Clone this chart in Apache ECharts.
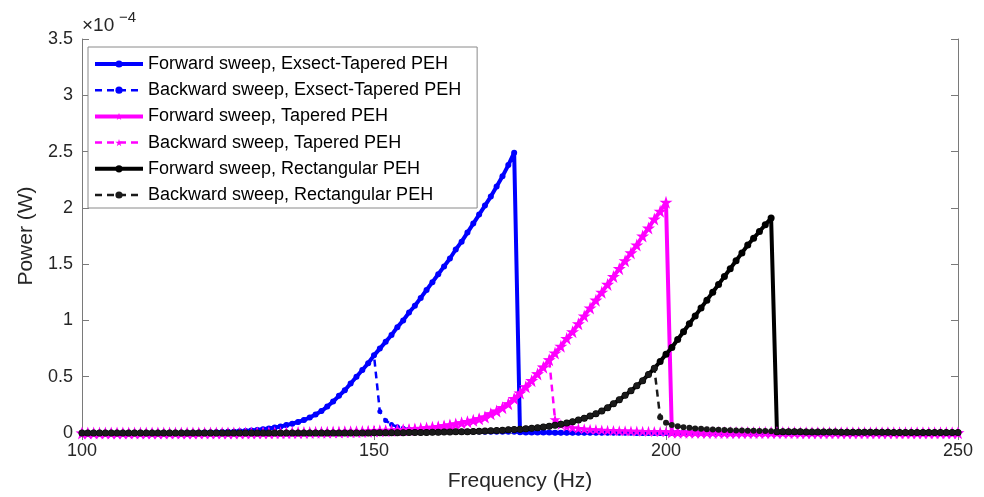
<!DOCTYPE html>
<html>
<head>
<meta charset="utf-8">
<script src="https://cdn.jsdelivr.net/npm/echarts@6/dist/echarts.min.js"></script>
<style>html,body{margin:0;padding:0;background:#fff;}#c{width:984px;height:497px;}</style>
</head>
<body>
<div id="c"></div>
<script>
// Frequency samples (Hz)
const FREQ = [
100,101,102,103,104,105,106,107,108,109,
110,111,112,113,114,115,116,117,118,119,
120,121,122,123,124,125,126,127,128,129,
130,131,132,133,134,135,136,137,138,139,
140,141,142,143,144,145,146,147,148,149,
150,151,152,153,154,155,156,157,158,159,
160,161,162,163,164,165,166,167,168,169,
170,171,172,173,174,175,176,177,178,179,
180,181,182,183,184,185,186,187,188,189,
190,191,192,193,194,195,196,197,198,199,
200,201,202,203,204,205,206,207,208,209,
210,211,212,213,214,215,216,217,218,219,
220,221,222,223,224,225,226,227,228,229,
230,231,232,233,234,235,236,237,238,239,
240,241,242,243,244,245,246,247,248,249,
250];

// Power values in units of 1e-4 W
const EXSECT_FWD = [
0,0,0,0,0,0,0,0,0,0,
0,0,0,0,0,0,0.001,0.001,0.002,0.002,
0.003,0.004,0.005,0.006,0.008,0.010,0.012,0.015,0.018,0.022,
0.027,0.033,0.040,0.048,0.058,0.070,0.083,0.098,0.115,0.138,
0.165,0.195,0.235,0.28,0.33,0.38,0.44,0.50,0.56,0.62,
0.69,0.75,0.81,0.87,0.94,1.00,1.07,1.13,1.20,1.27,
1.34,1.41,1.48,1.55,1.63,1.70,1.78,1.86,1.94,2.02,
2.10,2.19,2.28,2.38,2.49,0.006,0.005,0.005,0.004,0.004,
0.004,0.003,0.003,0.003,0.003,0.002,0.002,0.002,0.002,0.002,
0.002,0.002,0.002,0.002,0.002,0.001,0.001,0.001,0.001,0.001,
0.001,0.001,0.001,0.001,0.001,0.001,0.001,0.001,0.001,0.001,
0.001,0.001,0.001,0.001,0.001,0.001,0.001,0.001,0.001,0.001,
0.001,0.001,0.001,0.001,0.001,0,0,0,0,0,
0,0,0,0,0,0,0,0,0,0,
0,0,0,0,0,0,0,0,0,0,
0];

const EXSECT_BWD = [
0,0,0,0,0,0,0,0,0,0,
0,0,0,0,0,0,0.001,0.001,0.002,0.002,
0.003,0.004,0.005,0.006,0.008,0.010,0.012,0.015,0.018,0.022,
0.027,0.033,0.040,0.048,0.058,0.070,0.083,0.098,0.115,0.138,
0.165,0.195,0.235,0.28,0.33,0.38,0.44,0.50,0.56,0.62,
0.69,0.19,0.11,0.075,0.055,0.042,0.034,0.028,0.023,0.020,
0.017,0.015,0.013,0.012,0.011,0.010,0.009,0.008,0.008,0.007,
0.007,0.006,0.006,0.006,0.006,0.006,0.005,0.005,0.004,0.004,
0.004,0.003,0.003,0.003,0.003,0.002,0.002,0.002,0.002,0.002,
0.002,0.002,0.002,0.002,0.002,0.001,0.001,0.001,0.001,0.001,
0.001,0.001,0.001,0.001,0.001,0.001,0.001,0.001,0.001,0.001,
0.001,0.001,0.001,0.001,0.001,0.001,0.001,0.001,0.001,0.001,
0.001,0.001,0.001,0.001,0.001,0,0,0,0,0,
0,0,0,0,0,0,0,0,0,0,
0,0,0,0,0,0,0,0,0,0,
0];

const TAPERED_FWD = [
0,0,0,0,0,0,0,0,0,0,
0,0,0,0,0,0,0,0,0,0,
0.001,0.001,0.001,0.001,0.001,0.001,0.001,0.001,0.001,0.001,
0.002,0.002,0.002,0.003,0.003,0.003,0.004,0.004,0.005,0.005,
0.006,0.006,0.007,0.008,0.009,0.010,0.011,0.012,0.013,0.015,
0.017,0.019,0.021,0.023,0.026,0.029,0.032,0.036,0.040,0.045,
0.050,0.056,0.063,0.071,0.080,0.090,0.101,0.113,0.127,0.142,
0.17,0.195,0.225,0.26,0.305,0.355,0.41,0.465,0.525,0.585,
0.65,0.71,0.77,0.84,0.90,0.97,1.04,1.11,1.18,1.25,
1.32,1.39,1.46,1.53,1.60,1.67,1.75,1.82,1.90,1.97,
2.05,0.008,0.007,0.007,0.006,0.006,0.006,0.005,0.005,0.005,
0.004,0.004,0.004,0.004,0.004,0.004,0.004,0.004,0.004,0.004,
0.004,0.004,0.004,0.003,0.003,0.003,0.003,0.003,0.003,0.003,
0.003,0.003,0.003,0.003,0.003,0.003,0.003,0.003,0.003,0.003,
0.002,0.002,0.002,0.002,0.002,0.002,0.002,0.002,0.002,0.002,
0.002];

const TAPERED_BWD = [
0,0,0,0,0,0,0,0,0,0,
0,0,0,0,0,0,0,0,0,0,
0.001,0.001,0.001,0.001,0.001,0.001,0.001,0.001,0.001,0.001,
0.002,0.002,0.002,0.003,0.003,0.003,0.004,0.004,0.005,0.005,
0.006,0.006,0.007,0.008,0.009,0.010,0.011,0.012,0.013,0.015,
0.017,0.019,0.021,0.023,0.026,0.029,0.032,0.036,0.040,0.045,
0.050,0.056,0.063,0.071,0.080,0.090,0.101,0.113,0.127,0.142,
0.17,0.195,0.225,0.26,0.305,0.355,0.41,0.465,0.525,0.585,
0.65,0.12,0.075,0.058,0.048,0.042,0.037,0.033,0.030,0.027,
0.025,0.023,0.021,0.020,0.018,0.017,0.016,0.015,0.014,0.013,
0.012,0.008,0.007,0.007,0.006,0.006,0.006,0.005,0.005,0.005,
0.004,0.004,0.004,0.004,0.004,0.004,0.004,0.004,0.004,0.004,
0.004,0.004,0.004,0.003,0.003,0.003,0.003,0.003,0.003,0.003,
0.003,0.003,0.003,0.003,0.003,0.003,0.003,0.003,0.003,0.003,
0.002,0.002,0.002,0.002,0.002,0.002,0.002,0.002,0.002,0.002,
0.002];

const RECT_FWD = [
0,0,0,0,0,0,0,0,0,0,
0,0,0,0,0,0,0,0,0,0,
0,0,0,0,0,0,0,0,0,0,
0.001,0.001,0.001,0.001,0.001,0.001,0.001,0.001,0.001,0.001,
0.001,0.001,0.001,0.001,0.001,0.001,0.001,0.001,0.001,0.001,
0.002,0.002,0.002,0.003,0.003,0.003,0.004,0.004,0.005,0.005,
0.006,0.007,0.008,0.009,0.010,0.011,0.012,0.014,0.016,0.018,
0.020,0.022,0.025,0.028,0.031,0.034,0.038,0.042,0.047,0.053,
0.060,0.068,0.077,0.088,0.100,0.115,0.130,0.150,0.170,0.195,
0.225,0.26,0.295,0.335,0.375,0.42,0.465,0.52,0.575,0.635,
0.70,0.76,0.83,0.90,0.97,1.04,1.11,1.18,1.25,1.32,
1.39,1.46,1.53,1.60,1.67,1.73,1.79,1.85,1.91,0.012,
0.011,0.011,0.010,0.010,0.009,0.009,0.009,0.008,0.008,0.008,
0.007,0.007,0.007,0.007,0.006,0.006,0.006,0.006,0.006,0.005,
0.005,0.005,0.005,0.005,0.005,0.005,0.005,0.005,0.005,0.005,
0.005];

const RECT_BWD = [
0,0,0,0,0,0,0,0,0,0,
0,0,0,0,0,0,0,0,0,0,
0,0,0,0,0,0,0,0,0,0,
0.001,0.001,0.001,0.001,0.001,0.001,0.001,0.001,0.001,0.001,
0.001,0.001,0.001,0.001,0.001,0.001,0.001,0.001,0.001,0.001,
0.002,0.002,0.002,0.003,0.003,0.003,0.004,0.004,0.005,0.005,
0.006,0.007,0.008,0.009,0.010,0.011,0.012,0.014,0.016,0.018,
0.020,0.022,0.025,0.028,0.031,0.034,0.038,0.042,0.047,0.053,
0.060,0.068,0.077,0.088,0.100,0.115,0.130,0.150,0.170,0.195,
0.225,0.26,0.295,0.335,0.375,0.42,0.465,0.52,0.575,0.14,
0.09,0.07,0.06,0.052,0.046,0.041,0.037,0.034,0.031,0.029,
0.027,0.025,0.023,0.022,0.020,0.019,0.018,0.017,0.016,0.012,
0.011,0.011,0.010,0.010,0.009,0.009,0.009,0.008,0.008,0.008,
0.007,0.007,0.007,0.007,0.006,0.006,0.006,0.006,0.006,0.005,
0.005,0.005,0.005,0.005,0.005,0.005,0.005,0.005,0.005,0.005,
0.005];

const X_TICKS = [100, 150, 200, 250];
const Y_TICKS = [0, 0.5, 1, 1.5, 2, 2.5, 3, 3.5];
const SERIES_NAMES = [
  'Forward sweep, Exsect-Tapered PEH',
  'Backward sweep, Exsect-Tapered PEH',
  'Forward sweep, Tapered PEH',
  'Backward sweep, Tapered PEH',
  'Forward sweep, Rectangular PEH',
  'Backward sweep, Rectangular PEH'
];

const FONT = "'Liberation Sans', Arial, Helvetica, sans-serif";
const STAR = 'path://M50,0 L61.2,34.5 L97.6,34.5 L68.2,55.9 L79.4,90.5 L50,69.1 L20.6,90.5 L31.8,55.9 L2.4,34.5 L38.8,34.5 Z';

function pairs(vals) { return FREQ.map((f, i) => [f, vals[i]]); }

function mk(name, vals, color, dashed, symbol, size, width) {
  return {
    name: name, type: 'line', xAxisIndex: 0, yAxisIndex: 0,
    data: pairs(vals),
    symbol: symbol, symbolSize: size, showSymbol: true,
    lineStyle: { color: color, width: width, type: dashed ? [7, 5] : 'solid' },
    itemStyle: { color: color, borderColor: color, borderWidth: 0 },
    animation: false, silent: true, clip: true
  };
}

const chart = echarts.init(document.getElementById('c'), null, { renderer: 'canvas' });
const axisColor = '#7a7a7a';
const labelColor = '#262626';

chart.setOption({
  backgroundColor: '#ffffff',
  animation: false,
  textStyle: { fontFamily: FONT },
  grid: { left: 82, right: 26, top: 39, bottom: 63, containLabel: false },
  xAxis: [
    {
      type: 'value', min: X_TICKS[0], max: X_TICKS[X_TICKS.length - 1], interval: 50, position: 'bottom',
      axisLine: { show: true, lineStyle: { color: axisColor, width: 1 } },
      axisTick: { show: true, inside: true, length: 7, lineStyle: { color: axisColor } },
      axisLabel: { show: true, fontSize: 18, color: labelColor, margin: 9, fontFamily: FONT },
      splitLine: { show: false },
      name: 'Frequency (Hz)', nameLocation: 'middle', nameGap: 38,
      nameTextStyle: { fontSize: 21, color: labelColor, fontFamily: FONT }
    },
    {
      type: 'value', min: X_TICKS[0], max: X_TICKS[X_TICKS.length - 1], interval: 50, position: 'top',
      axisLine: { show: true, lineStyle: { color: axisColor, width: 1 } },
      axisTick: { show: true, inside: true, length: 7, lineStyle: { color: axisColor } },
      axisLabel: { show: false }, splitLine: { show: false }
    }
  ],
  yAxis: [
    {
      type: 'value', min: Y_TICKS[0], max: Y_TICKS[Y_TICKS.length - 1], interval: 0.5, position: 'left',
      axisLine: { show: true, lineStyle: { color: axisColor, width: 1 } },
      axisTick: { show: true, inside: true, length: 7, lineStyle: { color: axisColor } },
      axisLabel: { show: true, fontSize: 18, color: labelColor, margin: 9, fontFamily: FONT },
      splitLine: { show: false },
      name: 'Power (W)', nameLocation: 'middle', nameGap: 45,
      nameTextStyle: { fontSize: 21, color: labelColor, fontFamily: FONT }
    },
    {
      type: 'value', min: Y_TICKS[0], max: Y_TICKS[Y_TICKS.length - 1], interval: 0.5, position: 'right',
      axisLine: { show: true, lineStyle: { color: axisColor, width: 1 } },
      axisTick: { show: true, inside: true, length: 7, lineStyle: { color: axisColor } },
      axisLabel: { show: false }, splitLine: { show: false }
    }
  ],
  legend: {
    orient: 'vertical', left: 88, top: 47,
    padding: [7, 16, 3, 5], itemGap: 6.2, itemWidth: 48, itemHeight: 9,
    backgroundColor: '#ffffff', borderColor: '#8a8a8a', borderWidth: 1,
    lineStyle: { width: 'inherit' },
    textStyle: { fontSize: 18, color: '#000', fontFamily: FONT, lineHeight: 20 },
    data: SERIES_NAMES
  },
  graphic: [
    { type: 'text', left: 82, top: 16, style: { text: '×10', fill: labelColor, font: '19px ' + FONT } },
    { type: 'text', left: 119, top: 10, style: { text: '−4', fill: labelColor, font: '15px ' + FONT } }
  ],
  series: [
    mk(SERIES_NAMES[0], EXSECT_FWD, '#0000ff', false, 'circle', 6, 4),
    mk(SERIES_NAMES[1], EXSECT_BWD, '#0000ff', true, 'circle', 5, 2.5),
    mk(SERIES_NAMES[2], TAPERED_FWD, '#ff00ff', false, STAR, 13, 4),
    mk(SERIES_NAMES[3], TAPERED_BWD, '#ff00ff', true, STAR, 11, 2.5),
    mk(SERIES_NAMES[4], RECT_FWD, '#000000', false, 'circle', 7, 4),
    mk(SERIES_NAMES[5], RECT_BWD, '#1a1a1a', true, 'circle', 6, 2.5)
  ]
});
</script>
</body>
</html>
